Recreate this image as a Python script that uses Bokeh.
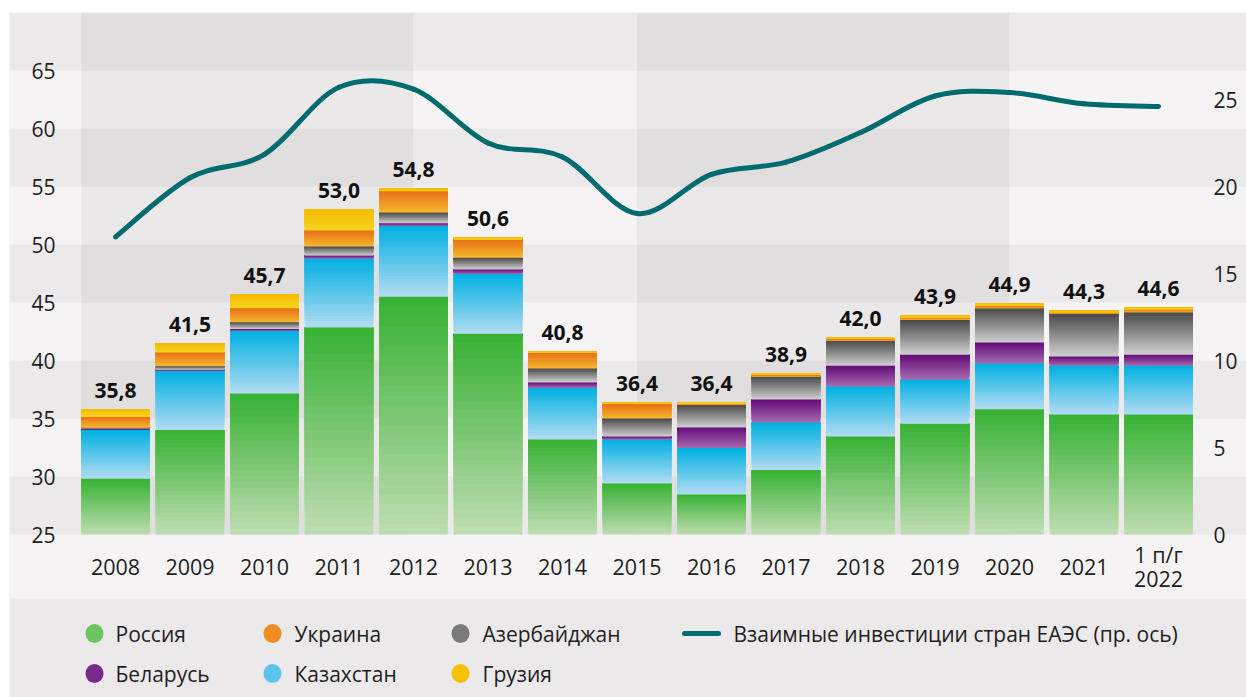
import numpy as np
from bokeh.plotting import figure
from bokeh.models import Range1d, ColumnDataSource
from bokeh.core.properties import value
from bokeh.embed import file_html
from bokeh.resources import INLINE

# ---------------- data ----------------
categories = ["2008", "2009", "2010", "2011", "2012", "2013", "2014", "2015",
              "2016", "2017", "2018", "2019", "2020", "2021", "1 п/г\n2022"]
russia     = [29.8, 34.0, 37.15, 42.85, 45.5, 42.3, 33.2, 29.4, 28.45, 30.55, 33.45, 34.55, 35.8, 35.35, 35.35]
kazakhstan = [4.2, 5.1, 5.4, 5.95, 6.1, 5.15, 4.45, 3.8, 4.0, 4.1, 4.3, 3.8, 3.95, 4.2, 4.2]
belarus    = [0.1, 0.12, 0.17, 0.25, 0.24, 0.4, 0.46, 0.25, 1.78, 1.98, 1.8, 2.15, 1.8, 0.8, 0.95]
azerbaijan = [0.1, 0.28, 0.58, 0.78, 0.92, 1.0, 1.2, 1.55, 1.95, 2.0, 2.15, 3.0, 2.95, 3.65, 3.65]
ukraine    = [0.95, 1.2, 1.2, 1.37, 1.84, 1.58, 1.38, 1.25, 0.1, 0.12, 0.15, 0.2, 0.2, 0.15, 0.25]
georgia    = [0.65, 0.8, 1.2, 1.8, 0.2, 0.17, 0.11, 0.15, 0.12, 0.15, 0.15, 0.2, 0.2, 0.15, 0.2]
totals     = [35.8, 41.5, 45.7, 53.0, 54.8, 50.6, 40.8, 36.4, 36.4, 38.9, 42.0, 43.9, 44.9, 44.3, 44.6]
eaeu_mutual = [17.1, 20.5, 21.85, 25.7, 25.6, 22.5, 21.7, 18.45, 20.7, 21.4, 23.1, 25.2, 25.4, 24.75, 24.6]

left_ticks = [25, 30, 35, 40, 45, 50, 55, 60, 65]
right_ticks = [0, 5, 10, 15, 20, 25]

series_names = ["Россия", "Казахстан", "Беларусь", "Азербайджан", "Украина", "Грузия"]
line_name = "Взаимные инвестиции стран ЕАЭС (пр. ось)"

# ---------------- styling ----------------
FONT = "Open Sans"
grad = {  # (top colour, bottom colour)
    "Россия": ("#36b233", "#c0ddb2"),
    "Казахстан": ("#00b0e2", "#b3dcf2"),
    "Беларусь": ("#650a78", "#a56cb0"),
    "Азербайджан": ("#4a4a4a", "#d0d0d0"),
    "Украина": ("#e76f18", "#f6b82e"),
    "Грузия": ("#f4b900", "#f8d620"),
}
legend_col = {
    "Россия": "#6cc460",
    "Казахстан": "#5cc4ec",
    "Беларусь": "#7a2a8c",
    "Азербайджан": "#7a7a7a",
    "Украина": "#ee8b22",
    "Грузия": "#f5c200",
}
LINE_COLOR = "#006b6e"

# geometry (page pixels -> data); figure sits at the page origin
X0, PXX = 115.0, 74.5              # centre of first bar, px per category
BASE, YB, PXL = 25.0, 534.0, 11.6  # left axis baseline value, its page y, px per unit
PXR = 17.4                          # right axis px per unit (0 at YB)
W, H = 1246, 697
FR_L, FR_R, FR_T, FR_B = 9, W, 12, H  # frame in page coords


def xd(px):
    return (px - X0) / PXX


def yl(py):
    return BASE + (YB - py) / PXL


def yr(py):
    return (YB - py) / PXR


p = figure(width=W, height=H, output_backend="svg", toolbar_location=None,
           x_range=Range1d(xd(FR_L), xd(FR_R)), y_range=Range1d(yl(FR_B), yl(FR_T)),
           x_axis_location=None, y_axis_location=None,
           min_border_left=FR_L, min_border_top=FR_T,
           min_border_right=0, min_border_bottom=0,
           border_fill_color="white", background_fill_color="#f5f3f4",
           outline_line_color=None)
p.extra_y_ranges = {"right": Range1d(yr(FR_B), yr(FR_T))}
p.grid.visible = False

n = len(categories)
bw = 0.92
top_val = yl(FR_T)

# background bands: horizontal rows (every other 5-unit step) and vertical blocks
rows_b = [t for t in left_ticks[::2]]
p.quad(left=[xd(FR_L)] * len(rows_b), right=[xd(FR_R + 10)] * len(rows_b),
       bottom=rows_b, top=[b + 5 for b in rows_b], fill_color="black",
       fill_alpha=0.04, line_color=None)
vb_left = [-bw / 2, 7]
vb_right = [4, 12]
p.quad(left=vb_left, right=vb_right, bottom=[BASE] * 2, top=[top_val] * 2,
       fill_color="black", fill_alpha=0.045, line_color=None)

# legend background
p.quad(left=[xd(FR_L)], right=[xd(FR_R + 10)], bottom=[yl(FR_B + 5)], top=[yl(598)],
       fill_color="#ebe9ea", line_color=None)


# ---------------- stacked bars with vertical gradients ----------------
def hex2rgb(h):
    h = h.lstrip("#")
    return np.array([int(h[i:i + 2], 16) for i in (0, 2, 4)], float)


def mix(c_bot, c_top, t):
    a, b = hex2rgb(c_bot), hex2rgb(c_top)
    c = a + (b - a) * t
    return "#%02x%02x%02x" % tuple(int(round(v)) for v in c)


stack = [russia, kazakhstan, belarus, azerbaijan, ukraine, georgia]
NS = 24
xs, bots, tops, cols = [], [], [], []
for i in range(n):
    cum = 0.0
    for name, vals in zip(series_names, stack):
        lo, hi = cum, cum + vals[i]
        cum = hi
        lo_v = max(lo, BASE)
        if hi <= BASE:
            continue
        ctop, cbot = grad[name]
        for k in range(NS):
            xs.append(i)
            bots.append(lo_v + (hi - lo_v) * k / NS)
            tops.append(hi)
            cols.append(mix(cbot, ctop, (k + 0.5) / NS))
bar_src = ColumnDataSource(dict(x=xs, bottom=bots, top=tops, color=cols))
p.vbar(x="x", width=bw, bottom="bottom", top="top", fill_color="color",
       line_color=None, source=bar_src)

# value labels
p.text(x=list(range(n)), y=totals,
       text=[f"{v:.1f}".replace(".", ",") for v in totals],
       text_font=value(FONT), text_font_style="bold", text_font_size=value("21px"),
       text_color="#111111", text_align="center", text_baseline="middle", y_offset=-19)

# ---------------- smoothed line (Catmull-Rom as Bezier) on right axis ----------------
P = [(float(i), float(v)) for i, v in enumerate(eaeu_mutual)]
bz = dict(x0=[], y0=[], x1=[], y1=[], cx0=[], cy0=[], cx1=[], cy1=[])
for i in range(n - 1):
    p0 = P[max(i - 1, 0)]
    p1 = P[i]
    p2 = P[i + 1]
    p3 = P[min(i + 2, n - 1)]
    bz["x0"].append(p1[0]); bz["y0"].append(p1[1])
    bz["x1"].append(p2[0]); bz["y1"].append(p2[1])
    bz["cx0"].append(p1[0] + (p2[0] - p0[0]) / 6); bz["cy0"].append(p1[1] + (p2[1] - p0[1]) / 6)
    bz["cx1"].append(p2[0] - (p3[0] - p1[0]) / 6); bz["cy1"].append(p2[1] - (p3[1] - p1[1]) / 6)
p.bezier(x0="x0", y0="y0", x1="x1", y1="y1", cx0="cx0", cy0="cy0", cx1="cx1", cy1="cy1",
         source=ColumnDataSource(bz), y_range_name="right",
         line_color=LINE_COLOR, line_width=5, line_cap="round")

# ---------------- axis tick labels ----------------
TICK_COLOR = "#1e1e1e"
p.text(x=[xd(55)] * len(left_ticks), y=left_ticks, text=[str(t) for t in left_ticks],
       text_font=value(FONT), text_font_size=value("21px"), text_color=TICK_COLOR,
       text_align="right", text_baseline="middle")
p.text(x=[xd(1213)] * len(right_ticks), y=right_ticks, text=[str(t) for t in right_ticks],
       y_range_name="right",
       text_font=value(FONT), text_font_size=value("21px"), text_color=TICK_COLOR,
       text_align="left", text_baseline="middle")

lx, ly, lt = [], [], []
for i, c in enumerate(categories):
    lines = c.split("\n")
    nl = len(lines)
    for j, s in enumerate(lines):
        lx.append(i)
        ly.append(yl(566 + (j - (nl - 1) / 2) * 24))
        lt.append(s)
p.text(x=lx, y=ly, text=lt, text_font=value(FONT), text_font_size=value("21.5px"),
       text_color=TICK_COLOR, text_align="center", text_baseline="middle")

# ---------------- legend ----------------
leg_cols_px = [94, 272, 460]
leg_text_px = [115, 294, 482]
leg_rows_py = [633, 673]
order = [("Россия", 0, 0), ("Украина", 1, 0), ("Азербайджан", 2, 0),
         ("Беларусь", 0, 1), ("Казахстан", 1, 1), ("Грузия", 2, 1)]
p.ellipse(x=[xd(leg_cols_px[c]) for _, c, r in order],
          y=[yl(leg_rows_py[r]) for _, c, r in order],
          width=18, height=19, width_units="screen", height_units="screen",
          fill_color=[legend_col[nm] for nm, _, _ in order], line_color=None)
p.text(x=[xd(leg_text_px[c]) for _, c, r in order] + [xd(733)],
       y=[yl(leg_rows_py[r]) for _, c, r in order] + [yl(leg_rows_py[0])],
       text=[nm for nm, _, _ in order] + [line_name],
       text_font=value(FONT), text_font_size=value("21px"), text_color=TICK_COLOR,
       text_align="left", text_baseline="middle")
p.segment(x0=[xd(684)], y0=[yl(leg_rows_py[0])], x1=[xd(718)], y1=[yl(leg_rows_py[0])],
          line_color=LINE_COLOR, line_width=5, line_cap="round")

open("out.html", "w").write(file_html(p, INLINE))
